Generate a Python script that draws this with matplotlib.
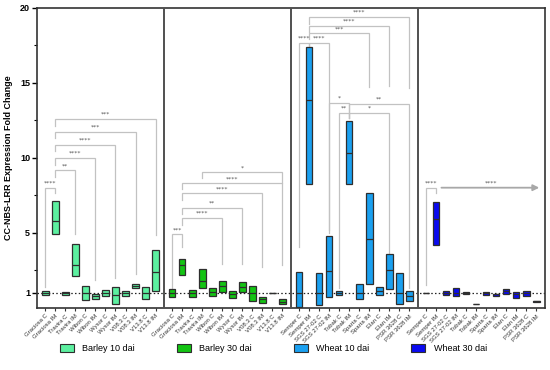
import matplotlib
matplotlib.use("Agg")
import matplotlib.pyplot as plt
from matplotlib.patches import Patch
from matplotlib.ticker import FixedLocator

plt.rcParams['font.family'] = ['Liberation Sans', 'DejaVu Sans']

# ---------------- data ----------------
barley_cultivars = ['Graciosa', 'Travira', 'Wibon', 'Wysor', 'V08.3', 'V13.8']
wheat_cultivars = ['Semper', 'SGS 27-02', 'Tobak', 'Sparta', 'Elan', 'PSR 3628']
treatments = ['C', 'IM']

group_names = ['Barley 10 dai', 'Barley 30 dai', 'Wheat 10 dai', 'Wheat 30 dai']
group_colors = ['#5CF0A0', '#13C413', '#1AA0F0', '#0A0AF0']

barley10_min = [0.85, 4.90, 0.88, 2.10, 0.50, 0.60, 0.77, 0.25, 0.82, 1.31, 0.62, 1.16]
barley10_med = [1.00, 5.82, 0.97, 2.86, 1.00, 0.78, 1.00, 0.85, 1.00, 1.47, 1.00, 2.37]
barley10_max = [1.15, 7.15, 1.05, 4.28, 1.47, 0.93, 1.18, 1.40, 1.11, 1.62, 1.38, 3.86]

barley30_min = [0.71, 2.22, 0.71, 1.31, 0.82, 1.09, 0.69, 1.09, 0.44, 0.31, 0.97, 0.28]
barley30_med = [0.98, 2.87, 1.00, 1.77, 1.09, 1.49, 0.93, 1.42, 1.00, 0.58, 1.00, 0.42]
barley30_max = [1.24, 3.24, 1.20, 2.58, 1.31, 1.82, 1.13, 1.71, 1.44, 0.73, 1.03, 0.57]

wheat10_min = [0.09, 8.24, 0.18, 0.71, 0.84, 8.24, 0.62, 1.60, 0.84, 1.27, 0.27, 0.47]
wheat10_med = [1.00, 13.87, 1.00, 2.44, 1.00, 10.36, 1.00, 4.60, 1.13, 2.51, 1.00, 0.82]
wheat10_max = [2.40, 17.38, 2.31, 4.78, 1.11, 12.47, 1.60, 7.69, 1.40, 3.62, 2.31, 1.16]

wheat30_min = [0.97, 4.18, 0.84, 0.78, 0.96, 0.25, 0.87, 0.80, 0.93, 0.67, 0.78, 0.42]
wheat30_med = [1.00, 5.91, 1.00, 1.02, 1.00, 0.27, 1.00, 0.90, 1.10, 0.90, 1.00, 0.44]
wheat30_max = [1.03, 7.04, 1.13, 1.31, 1.04, 0.29, 1.07, 0.96, 1.24, 1.04, 1.16, 0.46]

# significance comparisons: (group, index a, index b, top, left leg end, right leg end, label)
brackets = [
    (0, 0, 1, 8.00, 1.40, 7.65, '****'),
    (0, 1, 3, 9.17, 8.70, 4.90, '**'),
    (0, 1, 5, 10.00, 9.55, 1.87, '****'),
    (0, 1, 7, 10.87, 10.45, 2.00, '****'),
    (0, 1, 9, 11.76, 11.30, 2.25, '***'),
    (0, 1, 11, 12.62, 12.15, 4.87, '***'),
    (1, 0, 1, 4.91, 1.31, 4.09, '***'),
    (1, 1, 5, 5.98, 5.50, 2.91, '****'),
    (1, 1, 7, 6.69, 6.25, 2.91, '**'),
    (1, 1, 9, 7.64, 7.20, 2.76, '****'),
    (1, 1, 11, 8.31, 7.90, 2.87, '****'),
    (1, 3, 11, 9.04, 8.64, 8.35, '*'),
    (2, 0, 1, 17.69, 4.09, 17.45, '****'),
    (2, 1, 3, 17.69, 17.45, 5.20, '****'),
    (2, 1, 7, 18.31, 17.90, 14.70, '***'),
    (2, 1, 9, 18.82, 18.40, 14.80, '****'),
    (2, 1, 11, 19.38, 18.95, 14.64, '****'),
    (2, 3, 5, 13.69, 5.00, 12.64, '*'),
    (2, 5, 11, 13.60, 13.00, 1.31, '**'),
    (2, 4, 5, 12.98, 1.31, 12.64, '**'),
    (2, 5, 9, 12.98, 12.64, 3.64, '*'),
    (3, 0, 1, 8.02, 1.53, 7.69, '****'),
]
# arrow comparison: (group, from index, to index, level, label)
arrow_comp = (3, 1, 11, 8.02, '****')

y_ticks = [1, 5, 10, 15, 20]
y_minor = [2.5, 7.5, 12.5, 17.5]

# ---------------- layout ----------------
mins = [barley10_min, barley30_min, wheat10_min, wheat30_min]
meds = [barley10_med, barley30_med, wheat10_med, wheat30_med]
maxs = [barley10_max, barley30_max, wheat10_max, wheat30_max]
cultivar_sets = [barley_cultivars, barley_cultivars, wheat_cultivars, wheat_cultivars]

n = 12
panel_step = 12.65


def xpos(g, i):
    return g * panel_step + i


fig = plt.figure(figsize=(5.5, 3.7), dpi=100)
ax = fig.add_axes([0.0673, 0.1676, 0.9227, 0.8108])

bar_w = 0.66
edge = '#2e2e2e'
xt, xl = [], []
for g in range(4):
    xs = [xpos(g, i) for i in range(n)]
    lo = mins[g]
    hi = maxs[g]
    heights = [h - l for h, l in zip(hi, lo)]
    ax.bar(xs, heights, bottom=lo, width=bar_w, color=group_colors[g],
           edgecolor=edge, linewidth=0.9, zorder=3)
    ax.hlines(meds[g], [x - bar_w / 2 for x in xs], [x + bar_w / 2 for x in xs],
              colors=edge, linewidth=0.9, zorder=4)
    labs = [f"{c} {t}" for c in cultivar_sets[g] for t in treatments]
    xt += xs
    xl += labs

# reference line
ax.axhline(1, color='#222222', linestyle=(0, (1.2, 1.8)), linewidth=0.9, zorder=2)

# panel dividers
for g in range(1, 4):
    ax.axvline(g * panel_step - (panel_step - 11) / 2, color='#505050', linewidth=1.4, zorder=5)

# brackets
bc = '#c2c2c2'
star_kw = dict(ha='center', va='bottom', fontsize=4.4, color='#555555', family='DejaVu Sans')
for g, a, b, top, lb, rb, lab in brackets:
    xa, xb = xpos(g, a), xpos(g, b)
    ax.plot([xa, xa, xb, xb], [lb, top, top, rb], color=bc, linewidth=0.9,
            zorder=1, solid_joinstyle='miter')
    ax.text((xa + xb) / 2, top + 0.15, lab, **star_kw)

g, a, b, lvl, lab = arrow_comp
ax.annotate('', xy=(xpos(g, b) + 0.3, lvl), xytext=(xpos(g, a) + 0.55, lvl),
            arrowprops=dict(arrowstyle='-|>', color='#a8a8a8', lw=1.3,
                            mutation_scale=9, shrinkA=0, shrinkB=0))
ax.text((xpos(g, a) + xpos(g, b)) / 2 + 0.5, lvl + 0.15, lab, **star_kw)

# axes
ax.set_xlim(-(panel_step - 11) / 2, 3 * panel_step + 11 + (panel_step - 11) / 2)
ax.set_ylim(0, 20)
ax.set_xticks(xt)
ax.set_xticklabels(xl, rotation=45, ha='right', rotation_mode='anchor',
                   fontsize=4.3, color='#333333')
ax.tick_params(axis='x', length=2.5, width=0.8, pad=1.5, color='#333333')
ax.set_yticks(y_ticks)
ax.yaxis.set_minor_locator(FixedLocator(y_minor))
ax.tick_params(axis='y', which='major', length=3.5, width=1.0, labelsize=6.5, pad=1.5)
ax.tick_params(axis='y', which='minor', length=2, width=0.8)
for t in ax.get_yticklabels():
    t.set_fontweight('bold')
for s in ax.spines.values():
    s.set_linewidth(1.2)
    s.set_color('#333333')
ax.set_ylabel('CC-NBS-LRR Expression Fold Change', fontsize=6.5, fontweight='bold', labelpad=5)

handles = [Patch(facecolor=c, edgecolor=edge, linewidth=0.8, label=nm)
           for c, nm in zip(group_colors, group_names)]
fig.legend(handles=handles, loc='center', bbox_to_anchor=(0.497, 0.058), ncol=4,
           frameon=False, fontsize=6.5, handlelength=1.6, handleheight=1.0,
           handletextpad=0.9, columnspacing=4.6)

fig.savefig('out.png', dpi=100)
